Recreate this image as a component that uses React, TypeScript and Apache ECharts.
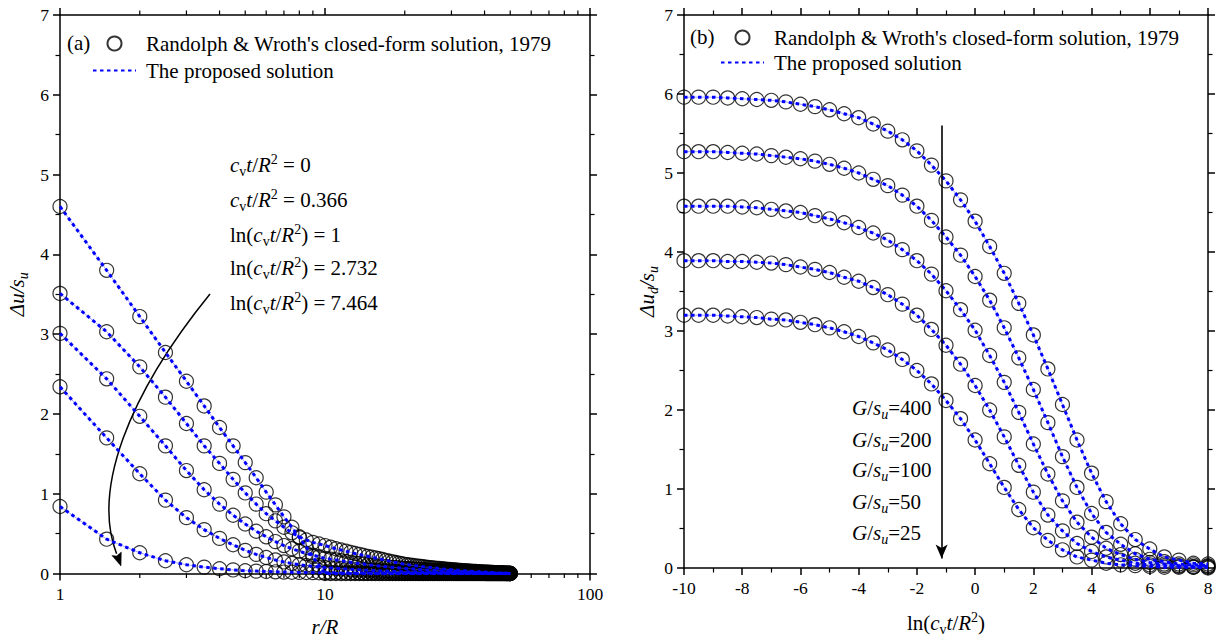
import React, { useEffect, useRef } from "react";
import * as echarts from "echarts";

// ---------- Data: panel (a) ----------
const rOverR = [1,1.5,2,2.5,3,3.5,4,4.5,5,5.5,6,6.5,7,7.5,8,8.5,9,9.5,
  10,10.5,11,11.5,12,12.5,13,13.5,14,14.5,15,15.5,16,16.5,17,17.5,18,18.5,19,19.5,20,
  20.5,21,21.5,22,22.5,23,23.5,24,24.5,25,25.5,26,26.5,27,27.5,28,28.5,29,29.5,30,
  30.5,31,31.5,32,32.5,33,33.5,34,34.5,35,35.5,36,36.5,37,37.5,38,38.5,39,39.5,40,
  40.5,41,41.5,42,42.5,43,43.5,44,44.5,45,45.5,46,46.5,47,47.5,48,48.5,49,49.5,50];

const duT0 = [4.60,3.80,3.22,2.77,2.41,2.10,1.83,1.60,1.39,1.20,1.02,0.86,0.71,0.58,0.45,0.33,0.21,0.10,
  0,0,0,0,0,0,0,0,0,0,0,0,0,0,0,0,0,0,0,0,0,
  0,0,0,0,0,0,0,0,0,0,0,0,0,0,0,0,0,0,0,0,
  0,0,0,0,0,0,0,0,0,0,0,0,0,0,0,0,0,0,0,0,
  0,0,0,0,0,0,0,0,0,0,0,0,0,0,0,0,0,0,0,0];
const duT0366 = [3.51,3.03,2.59,2.21,1.88,1.60,1.38,1.18,1.01,0.87,0.75,0.66,0.58,0.51,0.46,0.42,0.39,0.37,
  .35,.33,.31,.295,.28,.265,.25,.24,.225,.215,.205,.195,.185,.175,.165,.155,.145,.138,.13,.122,.115,
  .11,.105,.1,.096,.092,.088,.084,.08,.077,.074,.071,.068,.065,.062,.059,.056,.054,.052,.05,.048,
  .046,.044,.042,.04,.038,.036,.035,.033,.032,.03,.029,.027,.026,.025,.023,.022,.021,.02,.019,.018,
  .017,.016,.015,.014,.013,.012,.011,.01,.009,.008,.007,.006,.005,.004,.004,.003,.002,.002,.001,0];
const duLn1 = [3.01,2.44,1.97,1.60,1.29,1.05,0.87,0.73,0.62,0.53,0.46,0.40,0.35,0.31,0.28,0.25,0.23,0.21,
  .19,.18,.17,.16,.15,.14,.13,.125,.12,.11,.105,.1,.095,.09,.085,.08,.077,.074,.07,.067,.064,
  .061,.058,.056,.053,.051,.049,.047,.045,.043,.041,.039,.037,.036,.034,.033,.031,.03,.029,.027,.026,
  .025,.024,.023,.022,.021,.02,.019,.018,.017,.016,.015,.015,.014,.013,.012,.012,.011,.01,.01,.009,
  .008,.008,.007,.007,.006,.006,.005,.005,.004,.004,.003,.003,.003,.002,.002,.002,.001,.001,.001,0];
const duLn2732 = [2.34,1.70,1.25,0.92,0.70,0.55,0.44,0.36,0.29,0.24,0.20,0.17,0.145,0.125,0.11,0.10,0.09,0.08,
  .075,.07,.065,.06,.056,.052,.049,.046,.043,.04,.038,.036,.034,.032,.03,.028,.027,.026,.024,.023,.022,
  .021,.02,.019,.018,.017,.016,.016,.015,.014,.014,.013,.012,.012,.011,.011,.01,.01,.009,.009,.008,
  .008,.008,.007,.007,.007,.006,.006,.006,.005,.005,.005,.005,.004,.004,.004,.004,.003,.003,.003,.003,
  .003,.003,.002,.002,.002,.002,.002,.002,.001,.001,.001,.001,.001,.001,.001,.001,0,0,0,0];
const duLn7464 = [0.84,0.43,0.26,0.16,0.11,0.08,0.06,0.045,0.035,0.03,0.025,0.021,0.018,0.016,0.014,0.012,0.011,0.010,
  .009,.008,.008,.007,.007,.006,.006,.006,.005,.005,.005,.004,.004,.004,.004,.003,.003,.003,.003,.003,.003,
  .002,.002,.002,.002,.002,.002,.002,.002,.002,.002,.002,.002,.002,.002,.002,.002,.002,.002,.002,.002,
  .001,.001,.001,.001,.001,.001,.001,.001,.001,.001,.001,.001,.001,.001,.001,.001,.001,.001,.001,.001,
  0,0,0,0,0,0,0,0,0,0,0,0,0,0,0,0,0,0,0,0];
const panelACurves = [duT0, duT0366, duLn1, duLn2732, duLn7464];
const logMinorTicks = [2,3,4,5,6,7,8,9,20,30,40,50,60,70,80,90];

// ---------- Data: panel (b) ----------
const lnT = [-10,-9.5,-9,-8.5,-8,-7.5,-7,-6.5,-6,-5.5,-5,-4.5,-4,-3.5,-3,-2.5,-2,-1.5,-1,
  -0.5,0,0.5,1,1.5,2,2.5,3,3.5,4,4.5,5,5.5,6,6.5,7,7.5,8];
const g400 = [5.96,5.96,5.96,5.95,5.94,5.93,5.92,5.90,5.87, 5.84,5.80,5.75,5.70,5.62,5.53,5.42,5.28,5.10,4.90,
  4.66,4.39,4.07,3.73,3.35,2.95,2.52,2.07,1.62,1.20, 0.84,0.56,0.36,0.24,0.14,0.10,0.06,0.05];
const g200 = [5.27,5.27,5.27,5.26,5.25,5.24,5.22,5.20,5.18, 5.15,5.11,5.06,5.00,4.92,4.84,4.72,4.58,4.40,4.19,
  3.96,3.69,3.39,3.04,2.66,2.26,1.84,1.41,1.02,0.69, 0.45,0.30,0.18,0.11,0.08,0.05,0.04,0.03];
const g100 = [4.58,4.58,4.58,4.58,4.57,4.56,4.54,4.52,4.50, 4.46,4.42,4.37,4.31,4.24,4.15,4.03,3.89,3.72,3.51,
  3.27,3.01,2.69,2.35,1.97,1.57,1.19,0.85,0.58,0.39, 0.25,0.17,0.11,0.07,0.05,0.03,0.02,0.02];
const g50 = [3.89,3.89,3.89,3.88,3.88,3.87,3.86,3.84,3.81, 3.78,3.74,3.68,3.63,3.55,3.46,3.34,3.20,3.02,2.82,
  2.58,2.31,2.00,1.66,1.30,0.96,0.67,0.47,0.31,0.21, 0.14,0.10,0.06,0.04,0.03,0.02,0.01,0.01];
const g25 = [3.20,3.20,3.20,3.19,3.18,3.17,3.15,3.14,3.11, 3.08,3.04,2.99,2.93,2.85,2.76,2.64,2.50,2.33,2.12,
  1.89,1.62,1.32,1.02,0.74,0.51,0.35,0.23,0.14,0.10, 0.06,0.04,0.03,0.02,0.01,0.01,0.01,0.00];
const panelBCurves = [g400, g200, g100, g50, g25];

const arrowBX = -1.15;
const arrowBTop = 5.6;
const arrowBBottom = 0.12;

const yTicksMax = 7;
const NAME_RW = "Randolph & Wroth's closed-form solution, 1979";
const NAME_P = "The proposed solution";

const FF = "Liberation Serif";

const rich = {
  n: { fontFamily: FF, fontSize: 21, lineHeight: 26, color: "#000", fill: "#000" },
  i: { fontFamily: FF, fontSize: 21, fontStyle: "italic", lineHeight: 26, color: "#000", fill: "#000" },
  sub: { fontFamily: FF, fontSize: 14, lineHeight: 14, verticalAlign: "bottom", color: "#000", fill: "#000" },
  subi: { fontFamily: FF, fontSize: 14, fontStyle: "italic", lineHeight: 14, verticalAlign: "bottom", color: "#000", fill: "#000" },
  sup: { fontFamily: FF, fontSize: 14, lineHeight: 14, verticalAlign: "top", color: "#000", fill: "#000" },
};

const label = (text: string, x: number, y: number) => ({
  type: "text",
  x,
  y,
  silent: true,
  style: { text, rich, fontFamily: FF, fontSize: 21, fill: "#000", verticalAlign: "middle", align: "left" },
});

function axisCommon(showLabel: boolean, minor: boolean) {
  const a: any = {
    axisLine: { show: true, onZero: false, lineStyle: { color: "#000", width: 1.5 } },
    axisTick: { show: true, inside: false, length: 7, lineStyle: { color: "#000", width: 1.5 } },
    axisLabel: { show: showLabel, color: "#000", fontFamily: FF, fontSize: 17.5, margin: 11 },
    splitLine: { show: false },
  };
  if (minor) {
    a.minorTick = { show: true, splitNumber: 2, length: 4.5, lineStyle: { color: "#000", width: 1.2 } };
  }
  return a;
}

function pairs(xs: number[], ys: number[]) {
  return xs.map((x, k) => [x, ys[k]]);
}

const circleStyle = { color: "rgba(0,0,0,0)", borderColor: "#000", borderWidth: 1.2 };

export default function App() {
  const ref = useRef<HTMLDivElement>(null);
  useEffect(() => {
    if (!ref.current) return;
    const chart = echarts.init(ref.current, undefined, { renderer: "svg" });

    const series: any[] = [];
    series.push({
      type: "scatter",
      name: NAME_RW,
      xAxisIndex: 0,
      yAxisIndex: 0,
      symbol: "circle",
      symbolSize: 14,
      itemStyle: circleStyle,
      data: panelACurves.flatMap((c) => pairs(rOverR, c)),
      z: 2,
    });
    panelACurves.forEach((c) => {
      series.push({
        type: "line", xAxisIndex: 0, yAxisIndex: 0, symbol: "none", silent: true,
        lineStyle: { color: "rgba(90,90,255,0.55)", width: 1, type: "solid" },
        data: pairs(rOverR, c), z: 3,
      });
      series.push({
        type: "line", name: NAME_P, xAxisIndex: 0, yAxisIndex: 0, symbol: "none", showSymbol: false,
        itemStyle: { color: "#0000FF" },
        lineStyle: { color: "#0000FF", width: 3, type: [3.5, 3.5] },
        data: pairs(rOverR, c), z: 4,
      });
    });
    // log-axis minor ticks (bottom + top) for panel (a)
    series.push({
      type: "custom",
      xAxisIndex: 0,
      yAxisIndex: 0,
      silent: true,
      clip: false,
      z: 1,
      data: logMinorTicks.map((v) => [v, 0, 1]).concat(logMinorTicks.map((v) => [v, yTicksMax, -1])),
      renderItem: (params: any, api: any) => {
        const p = api.coord([api.value(0), api.value(1)]);
        const dir = api.value(2);
        return {
          type: "line",
          shape: { x1: p[0], y1: p[1], x2: p[0], y2: p[1] + dir * 4.5 },
          style: { stroke: "#000", lineWidth: 1.2 },
        };
      },
    });

    series.push({
      type: "scatter",
      name: NAME_RW,
      xAxisIndex: 2,
      yAxisIndex: 2,
      symbol: "circle",
      symbolSize: 14,
      itemStyle: circleStyle,
      data: panelBCurves.flatMap((c) => pairs(lnT, c)),
      z: 2,
    });
    panelBCurves.forEach((c, k) => {
      series.push({
        type: "line", xAxisIndex: 2, yAxisIndex: 2, symbol: "none", silent: true,
        lineStyle: { color: "rgba(90,90,255,0.55)", width: 1, type: "solid" },
        data: pairs(lnT, c), z: 3,
      });
      const s: any = {
        type: "line", name: NAME_P, xAxisIndex: 2, yAxisIndex: 2, symbol: "none", showSymbol: false,
        itemStyle: { color: "#0000FF" },
        lineStyle: { color: "#0000FF", width: 3, type: [3.5, 3.5] },
        data: pairs(lnT, c), z: 4,
      };
      if (k === 0) {
        s.markLine = {
          silent: true,
          symbol: ["none", "arrow"],
          symbolSize: [9, 14],
          label: { show: false },
          lineStyle: { color: "#000", width: 1.6, type: "solid" },
          data: [[{ coord: [arrowBX, arrowBTop] }, { coord: [arrowBX, arrowBBottom] }]],
        };
      }
      series.push(s);
    });

    const legendData = [
      { name: NAME_RW },
      { name: NAME_P, itemStyle: { opacity: 0 } },
    ];

    const option: any = {
      animation: false,
      backgroundColor: "#fff",
      textStyle: { fontFamily: FF, color: "#000" },
      grid: [
        { left: 60, top: 15, width: 530, height: 559 },
        { left: 684, top: 15, width: 524, height: 553 },
      ],
      legend: [
        {
          left: 87, top: 28, orient: "vertical", itemWidth: 43, itemHeight: 14, itemGap: 6,
          selectedMode: false, data: legendData,
          textStyle: { fontFamily: FF, fontSize: 21, color: "#000", padding: [0, 0, 0, 5] },
        },
        {
          left: 715, top: 22, orient: "vertical", itemWidth: 43, itemHeight: 14, itemGap: 4,
          selectedMode: false, data: legendData,
          textStyle: { fontFamily: FF, fontSize: 21, color: "#000", padding: [0, 0, 0, 5] },
        },
      ],
      xAxis: [
        {
          ...axisCommon(true, false), gridIndex: 0, type: "log", logBase: 10, min: 1, max: 100, position: "bottom",
          name: "{i|r/R}", nameLocation: "middle", nameGap: 40, nameTextStyle: { rich },
        },
        {
          ...axisCommon(false, false), gridIndex: 0, type: "log", logBase: 10, min: 1, max: 100, position: "top",
        },
        {
          ...axisCommon(true, true), gridIndex: 1, type: "value", min: -10, max: 8, interval: 2, position: "bottom",
          name: "{n|ln(}{i|c}{sub|v}{i|t}{n|/}{i|R}{sup|2}{n|)}", nameLocation: "middle", nameGap: 42,
          nameTextStyle: { rich },
        },
        {
          ...axisCommon(false, true), gridIndex: 1, type: "value", min: -10, max: 8, interval: 2, position: "top",
        },
      ],
      yAxis: [
        {
          ...axisCommon(true, true), gridIndex: 0, type: "value", min: 0, max: yTicksMax, interval: 1, position: "left",
          name: "{i|Δu/s}{subi|u}", nameLocation: "middle", nameGap: 30, nameRotate: 90,
          nameTextStyle: { rich },
        },
        {
          ...axisCommon(false, true), gridIndex: 0, type: "value", min: 0, max: yTicksMax, interval: 1, position: "right",
        },
        {
          ...axisCommon(true, true), gridIndex: 1, type: "value", min: 0, max: yTicksMax, interval: 1, position: "left",
          name: "{i|Δu}{subi|d}{i|/s}{subi|u}", nameLocation: "middle", nameGap: 24, nameRotate: 90,
          nameTextStyle: { rich },
        },
        {
          ...axisCommon(false, true), gridIndex: 1, type: "value", min: 0, max: yTicksMax, interval: 1, position: "right",
        },
      ],
      series,
      graphic: [
        label("{n|(a)}", 67, 43),
        label("{n|(b)}", 690, 37),
        label("{i|c}{sub|v}{i|t}{n|/}{i|R}{sup|2}{n| = 0}", 230, 165),
        label("{i|c}{sub|v}{i|t}{n|/}{i|R}{sup|2}{n| = 0.366}", 230, 200),
        label("{n|ln(}{i|c}{sub|v}{i|t}{n|/}{i|R}{sup|2}{n|) = 1}", 230, 235),
        label("{n|ln(}{i|c}{sub|v}{i|t}{n|/}{i|R}{sup|2}{n|) = 2.732}", 230, 268),
        label("{n|ln(}{i|c}{sub|v}{i|t}{n|/}{i|R}{sup|2}{n|) = 7.464}", 230, 303),
        label("{i|G}{n|/}{i|s}{subi|u}{n|=400}", 852, 408),
        label("{i|G}{n|/}{i|s}{subi|u}{n|=200}", 852, 440),
        label("{i|G}{n|/}{i|s}{subi|u}{n|=100}", 852, 470),
        label("{i|G}{n|/}{i|s}{subi|u}{n|=50}", 852, 502),
        label("{i|G}{n|/}{i|s}{subi|u}{n|=25}", 852, 533),
        {
          type: "bezierCurve",
          silent: true,
          shape: { x1: 210, y1: 294, cpx1: 128, cpy1: 395, cpx2: 92, cpy2: 490, x2: 116.6, y2: 553.8 },
          style: { stroke: "#000", lineWidth: 1.5, fill: "none" },
        },
        {
          type: "polygon",
          silent: true,
          shape: { points: [[121, 566], [121.3, 552.1], [116.6, 556], [111.9, 555.5]] },
          style: { fill: "#000", stroke: "#000", lineWidth: 0.5 },
        },
      ],
    };
    chart.setOption(option);
    return () => chart.dispose();
  }, []);
  return (
    <div
      ref={ref}
      style={{ position: "fixed", left: 0, top: 0, width: 1217, height: 642, background: "#fff" }}
    />
  );
}
